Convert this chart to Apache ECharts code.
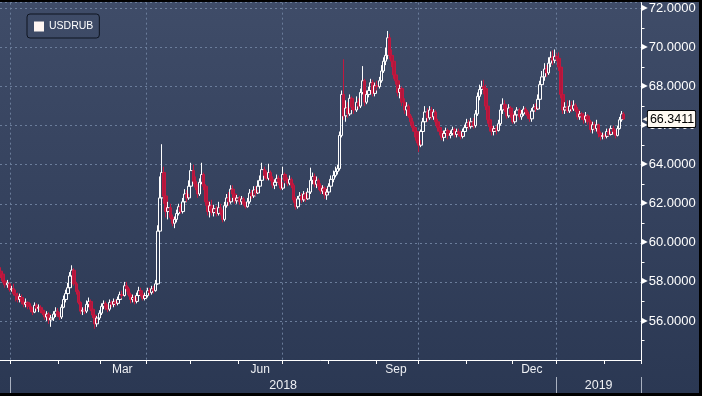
<!DOCTYPE html>
<html>
<head>
<meta charset="utf-8">
<script src="https://cdn.jsdelivr.net/npm/echarts@6/dist/echarts.min.js"></script>
<style>
  html, body { margin: 0; padding: 0; background: #000; }
  #wrap { position: absolute; left: 0; top: 2px; width: 699px; height: 391px;
          background: linear-gradient(to bottom, #3f4c68 0%, #35425e 50%, #2b3853 100%); }
  #chart { width: 699px; height: 391px; }
</style>
</head>
<body>
<div id="wrap"><div id="chart"></div></div>
<script>
// ---- DATA ----
const seriesName = 'USDRUB';
const firstDay = '2017-12-25';
const dayCount = 307;                 // weekdays shown on the axis
const lastPrice = 66.3411;
const monthLabelDates = ['2018-03-15', '2018-06-15', '2018-09-14', '2018-12-14'];
const monthLabelText  = ['Mar', 'Jun', 'Sep', 'Dec'];
const quarterGridDates = ['2018-01-01', '2018-04-02', '2018-07-02', '2018-10-01', '2019-01-01'];
const yearTickDates  = ['2018-01-01', '2019-01-01'];
const yearLabelDates = ['2018-07-02', '2019-01-29'];
const yTicks = [56, 58, 60, 62, 64, 66, 68, 70, 72];

// [open, close, low, high], one per weekday starting 2017-12-25
const usdrub = [
[58.55,58.40,58.20,58.75],[58.40,58.05,57.95,58.50],[58.05,57.85,57.70,58.20],[57.85,57.95,57.70,58.10],[57.90,57.60,57.50,58.00],
[57.60,57.65,57.50,57.80],[57.65,57.40,57.30,57.90],[57.40,57.30,57.00,57.60],[57.30,57.10,56.95,57.45],[57.10,57.25,56.95,57.40],
[57.20,57.00,56.85,57.35],[57.00,56.85,56.70,57.10],[56.85,56.95,56.70,57.15],[56.95,56.75,56.60,57.00],[56.75,56.60,56.45,56.90],
[56.60,56.45,56.30,56.70],[56.45,56.80,56.40,56.95],[56.80,56.65,56.50,56.90],[56.65,56.70,56.45,56.85],[56.70,56.55,56.40,56.80],
[56.55,56.40,56.30,56.70],[56.40,56.20,56.05,56.50],[56.20,56.35,56.00,56.50],[56.35,56.05,55.85,56.45],[56.05,56.15,55.70,56.30],
[56.15,56.35,56.00,56.50],[56.35,56.50,56.20,56.70],[56.50,56.30,56.20,56.65],[56.30,56.20,56.05,56.45],[56.20,56.70,56.10,56.85],
[56.70,57.10,56.65,57.30],[57.10,57.40,56.95,57.60],[57.40,57.70,57.30,57.95],[57.70,58.30,57.60,58.50],[58.30,58.60,58.10,58.85],
[58.60,57.90,57.80,58.70],[57.90,57.50,57.35,58.00],[57.50,56.95,56.85,57.60],[56.95,56.50,56.35,57.00],[56.50,56.55,56.30,56.70],
[56.55,56.50,56.35,56.70],[56.50,56.85,56.40,57.05],[56.85,57.00,56.70,57.20],[57.00,56.60,56.50,57.10],[56.60,56.30,56.15,56.70],
[56.30,55.85,55.60,56.35],[55.85,56.15,55.70,56.25],[56.15,56.40,56.05,56.55],[56.40,56.75,56.30,56.90],[56.75,56.90,56.60,57.05],
[56.90,56.70,56.55,57.00],[56.70,56.60,56.45,56.85],[56.60,56.95,56.50,57.10],[56.95,56.85,56.70,57.05],[56.85,57.00,56.70,57.15],
[57.00,56.90,56.75,57.10],[56.90,57.10,56.80,57.25],[57.10,57.35,57.00,57.50],[57.35,57.30,57.15,57.55],[57.30,57.80,57.25,58.00],
[57.80,57.65,57.50,58.00],[57.65,57.35,57.25,57.75],[57.35,57.10,56.90,57.45],[57.10,57.20,56.95,57.35],[57.20,57.00,56.85,57.30],
[57.00,57.30,56.90,57.45],[57.30,57.55,57.20,57.75],[57.55,57.35,57.25,57.70],[57.35,57.15,57.05,57.45],[57.15,57.30,57.05,57.45],
[57.30,57.55,57.20,57.70],[57.55,57.45,57.30,57.70],[57.45,57.65,57.35,57.80],[57.65,57.55,57.40,57.80],[57.55,57.90,57.50,58.10],
[57.90,60.60,57.85,60.90],[60.60,62.30,60.30,63.40],[62.30,63.60,61.80,65.05],[63.60,62.40,62.00,63.90],[62.40,61.60,61.30,62.60],
[61.60,61.80,61.20,62.10],[61.80,61.30,61.20,62.00],[61.30,61.00,60.85,61.45],[61.00,61.20,60.75,61.35],[61.20,61.50,61.05,61.70],
[61.50,61.85,61.40,62.00],[61.85,61.60,61.50,62.00],[61.60,62.10,61.50,62.30],[62.10,62.50,62.00,62.75],[62.50,62.30,62.10,62.70],
[62.30,62.90,62.20,63.20],[62.90,63.70,62.80,64.10],[63.70,63.15,63.00,64.00],[63.15,62.85,62.70,63.40],[62.85,62.50,62.30,63.00],
[62.50,63.10,62.40,63.30],[63.10,63.50,63.00,64.10],[63.50,62.90,62.70,63.60],[62.90,62.10,61.90,63.00],[62.10,61.60,61.40,62.20],
[61.60,61.90,61.30,62.10],[61.90,61.55,61.40,62.20],[61.55,61.75,61.35,61.95],[61.75,61.50,61.35,61.90],[61.50,61.80,61.40,62.10],
[61.80,61.55,61.40,62.00],[61.55,61.20,61.05,61.70],[61.20,61.90,61.10,62.10],[61.90,62.30,61.80,62.50],[62.30,62.10,61.90,62.60],
[62.10,62.75,62.00,62.95],[62.75,62.50,62.30,62.95],[62.50,62.15,62.00,62.70],[62.15,62.30,62.00,62.45],[62.30,62.10,61.95,62.40],
[62.10,62.25,61.95,62.40],[62.25,62.00,61.90,62.35],[62.00,61.85,61.75,62.10],[61.85,62.10,61.80,62.30],[62.10,62.55,62.00,62.75],
[62.55,62.40,62.25,62.70],[62.40,62.70,62.30,62.90],[62.70,62.55,62.40,62.90],[62.55,62.90,62.50,63.20],[62.90,63.20,62.80,63.45],
[63.20,63.75,63.10,64.10],[63.75,63.45,63.30,63.90],[63.45,63.30,63.20,63.70],[63.30,63.60,63.20,64.05],[63.60,63.25,63.15,63.70],
[63.25,62.95,62.80,63.40],[62.95,63.10,62.75,63.25],[63.10,63.30,62.90,63.50],[63.30,63.10,62.95,63.45],[63.10,62.80,62.70,63.25],
[62.80,63.50,62.70,63.90],[63.50,63.20,63.05,63.60],[63.20,63.05,62.90,63.35],[63.05,63.25,62.95,63.45],[63.25,62.95,62.80,63.35],
[62.95,62.20,62.05,63.05],[62.20,61.85,61.70,62.35],[61.85,62.25,61.75,62.40],[62.25,62.40,62.10,62.60],[62.40,62.20,62.05,62.55],
[62.20,62.50,62.10,62.65],[62.50,62.25,62.10,62.60],[62.25,62.60,62.20,62.80],[62.60,63.20,62.50,63.85],[63.20,63.40,63.00,63.60],
[63.40,63.00,62.85,63.55],[63.00,63.20,62.80,63.40],[63.20,62.90,62.70,63.30],[62.90,62.65,62.50,63.05],[62.65,62.80,62.50,62.95],
[62.80,62.45,62.25,62.90],[62.45,62.60,62.20,62.75],[62.60,62.90,62.50,63.05],[62.90,63.25,62.80,63.45],[63.25,63.45,63.10,63.70],
[63.45,63.65,63.35,63.90],[63.65,63.80,63.50,64.00],[63.80,65.50,63.70,65.70],[65.50,67.60,65.40,67.80],[67.60,66.50,66.30,69.40],
[66.50,66.90,66.20,67.30],[66.90,66.60,66.40,67.20],[66.60,67.40,66.50,67.60],[67.40,66.95,66.80,67.50],[66.95,66.80,66.60,67.20],
[66.80,67.20,66.70,67.50],[67.20,67.00,66.85,67.40],[67.00,67.70,66.90,67.90],[67.70,68.30,67.60,69.05],[68.30,67.20,67.00,68.40],
[67.20,67.60,67.10,67.80],[67.60,67.80,67.45,68.00],[67.80,68.20,67.70,68.40],[68.20,67.65,67.50,68.35],[67.65,68.05,67.50,68.20],
[68.05,68.00,67.80,68.30],[68.00,68.30,67.90,68.50],[68.30,68.80,68.20,69.10],[68.80,69.30,68.70,69.50],[69.30,69.60,69.10,70.00],
[69.60,70.50,69.40,70.85],[70.50,69.60,69.40,70.70],[69.60,69.30,69.00,69.90],[69.30,68.60,68.40,69.50],[68.60,68.30,68.10,68.80],
[68.30,67.70,67.50,68.40],[67.70,67.90,67.40,68.10],[67.90,67.20,67.00,68.00],[67.20,66.80,66.60,67.40],[66.80,67.00,66.50,67.20],
[67.00,66.50,66.40,67.10],[66.50,66.20,66.00,66.60],[66.20,65.90,65.70,66.40],[65.90,65.70,65.40,66.00],[65.70,65.25,65.10,65.80],
[65.25,65.00,64.65,65.35],[65.00,65.70,64.90,65.80],[65.70,66.20,65.60,66.40],[66.20,66.70,66.10,67.00],[66.70,66.40,66.20,66.90],
[66.40,66.80,66.30,67.00],[66.80,66.45,66.30,66.95],[66.45,66.70,66.30,66.85],[66.70,66.20,66.00,66.80],[66.20,65.90,65.70,66.35],
[65.90,65.70,65.50,66.05],[65.70,65.40,65.25,65.85],[65.40,65.60,65.20,65.75],[65.60,65.75,65.40,65.90],[65.75,65.50,65.30,65.85],
[65.50,65.60,65.35,65.75],[65.60,65.80,65.50,65.95],[65.80,65.55,65.40,65.90],[65.55,65.70,65.40,65.85],[65.70,65.60,65.45,65.85],
[65.60,65.45,65.30,65.75],[65.45,65.70,65.35,65.85],[65.70,65.90,65.60,66.05],[65.90,66.15,65.80,66.35],[66.15,65.95,65.80,66.30],
[65.95,66.20,65.85,66.40],[66.20,66.00,65.85,66.40],[66.00,66.60,65.90,66.80],[66.60,67.50,66.50,67.70],[67.50,67.85,67.30,68.10],
[67.85,68.00,67.60,68.30],[68.00,67.90,67.60,68.35],[67.90,67.00,66.80,68.10],[67.00,66.30,66.10,67.20],[66.30,65.95,65.70,66.40],
[65.95,65.70,65.50,66.05],[65.70,65.85,65.50,66.00],[65.85,65.75,65.55,66.00],[65.75,66.10,65.70,66.30],[66.10,66.80,66.00,67.10],
[66.80,67.10,66.60,67.40],[67.10,66.85,66.70,67.30],[66.85,66.50,66.35,67.10],[66.50,66.90,66.40,67.10],[66.90,66.60,66.40,67.00],
[66.60,66.20,66.10,66.70],[66.20,66.55,66.10,66.75],[66.55,66.80,66.40,66.95],[66.80,66.45,66.30,66.90],[66.45,66.60,66.30,66.80],
[66.60,66.85,66.50,67.00],[66.85,66.70,66.55,66.95],[66.70,66.50,66.35,66.80],[66.50,66.35,66.20,66.60],[66.35,66.75,66.20,66.90],
[66.75,66.95,66.60,67.10],[66.95,66.85,66.70,67.15],[66.85,67.35,66.80,67.60],[67.35,68.10,67.30,68.30],[68.10,68.50,68.00,68.80],
[68.50,68.90,68.30,69.20],[68.90,68.70,68.50,69.10],[68.70,69.20,68.60,69.50],[69.20,69.50,69.00,69.80],[69.50,69.35,69.10,69.85],
[69.35,69.55,69.20,69.90],[69.55,69.45,69.30,69.70],[69.45,69.00,68.80,69.75],[69.00,67.60,67.40,69.20],[67.60,66.80,66.60,67.70],
[66.80,66.95,66.60,67.20],[66.95,66.75,66.65,67.30],[66.75,67.00,66.65,67.30],[67.00,66.85,66.70,67.25],[66.85,67.05,66.75,67.30],
[67.05,66.80,66.70,67.15],[66.80,66.45,66.30,66.95],[66.45,66.60,66.30,66.75],[66.60,66.50,66.30,66.70],[66.50,66.30,66.10,66.65],
[66.30,66.50,66.15,66.70],[66.50,66.20,66.05,66.60],[66.20,65.80,65.65,66.30],[65.80,66.05,65.60,66.20],[66.05,65.85,65.70,66.20],
[65.85,66.05,65.70,66.30],[66.05,65.60,65.40,66.10],[65.60,65.45,65.25,65.70],[65.45,65.50,65.30,65.65],[65.50,65.45,65.30,65.60],
[65.45,65.70,65.35,65.85],[65.70,65.55,65.45,65.85],[65.55,65.85,65.50,66.00],[65.85,65.70,65.55,66.00],[65.70,65.50,65.35,65.80],
[65.50,65.85,65.45,66.00],[65.85,66.30,65.80,66.45],[66.30,66.60,66.20,66.75],[66.60,66.3411,66.30,66.70]
];

// ---- BUILD ----
function pad(n) { return (n < 10 ? '0' : '') + n; }
const categories = [];
(function () {
  const d = new Date(firstDay + 'T00:00:00Z');
  while (categories.length < dayCount) {
    const wd = d.getUTCDay();
    if (wd !== 0 && wd !== 6) {
      categories.push(d.getUTCFullYear() + '-' + pad(d.getUTCMonth() + 1) + '-' + pad(d.getUTCDate()));
    }
    d.setUTCDate(d.getUTCDate() + 1);
  }
})();
const isMonthStart = (i) => i > 0 && categories[i].slice(0, 7) !== categories[i - 1].slice(0, 7);

const FONT = 'Liberation Sans';
const chart = echarts.init(document.getElementById('chart'), null, { renderer: 'canvas' });
chart.setOption({
  animation: false,
  backgroundColor: 'transparent',
  textStyle: { fontFamily: FONT },
  grid: { left: 0, right: 57.5, top: 0, bottom: 33, containLabel: false },
  legend: {
    left: 27, top: 12,
    padding: [7, 6, 6, 7],
    backgroundColor: 'rgba(0,0,0,0)',
    borderColor: '#0e1420', borderWidth: 1, borderRadius: 3,
    itemWidth: 10, itemHeight: 10, itemGap: 4,
    textStyle: { color: '#ffffff', fontSize: 10.5, fontFamily: FONT, padding: [1, 0, 0, 0] },
    data: [{ name: seriesName, icon: 'rect', itemStyle: { color: '#fff6f2', borderWidth: 0 } }]
  },
  xAxis: [
    {
      type: 'category', data: categories, boundaryGap: true, position: 'bottom',
      axisLine: { show: true, lineStyle: { color: '#ffffff', width: 1 } },
      axisTick: { show: true, length: 4, interval: (i) => isMonthStart(i), lineStyle: { color: '#ffffff' } },
      axisLabel: {
        show: true, margin: 4, color: '#eef0f4', fontSize: 12, fontFamily: FONT,
        interval: (i, v) => monthLabelDates.indexOf(v) >= 0,
        formatter: (v) => { const k = monthLabelDates.indexOf(v); return k >= 0 ? monthLabelText[k] : ''; }
      },
      splitLine: {
        show: true, interval: (i, v) => quarterGridDates.indexOf(v) >= 0,
        lineStyle: { color: '#6b7d9b', type: [2, 3], width: 1 }
      }
    },
    {
      type: 'category', data: categories, boundaryGap: true, position: 'bottom', offset: 17,
      axisLine: { show: false },
      axisTick: { show: true, length: 20, interval: (i, v) => yearTickDates.indexOf(v) >= 0,
                  lineStyle: { color: '#a9b1c0', width: 1 } },
      axisLabel: {
        show: true, margin: 2, color: '#eef0f4', fontSize: 12.5, fontFamily: FONT,
        interval: (i, v) => yearLabelDates.indexOf(v) >= 0,
        formatter: (v) => v.slice(0, 4)
      },
      splitLine: { show: false }
    }
  ],
  yAxis: {
    type: 'value', position: 'right', min: 54, max: 72.3, interval: 2, scale: true,
    axisLine: { show: true, lineStyle: { color: '#ffffff', width: 1 } },
    axisTick: { show: false },
    minorTick: { show: true, splitNumber: 2, length: 3, lineStyle: { color: '#ffffff' } },
    splitLine: { show: true, lineStyle: { color: '#6b7d9b', type: [2, 3], width: 1 } },
    axisLabel: {
      margin: 0, color: '#ffffff', fontSize: 13, fontFamily: FONT,
      formatter: (v) => {
        const r = Math.round(v);
        if (Math.abs(v - r) > 1e-6 || yTicks.indexOf(r) < 0) return '';
        return '{t|▶}' + v.toFixed(4);
      },
      rich: { t: { fontSize: 8, color: '#ffffff', padding: [0, 1, 1, 0], fontFamily: 'DejaVu Sans' } }
    }
  },
  series: [{
    name: seriesName,
    type: 'candlestick',
    xAxisIndex: 0,
    data: usdrub,
    barWidth: 3,
    large: false,
    clip: false,
    itemStyle: {
      color: 'rgba(0,0,0,0)', color0: '#b3173c',
      borderColor: '#ffffff', borderColor0: '#c2183f', borderWidth: 1
    },
    markLine: {
      silent: true, symbol: ['none', 'none'], animation: false,
      lineStyle: { color: 'rgba(0,0,0,0)', width: 1, type: 'solid' },
      data: [{ yAxis: lastPrice }],
      label: {
        show: true, position: 'end', distance: 1,
        formatter: () => '{a|◀}{b|' + lastPrice.toFixed(4) + '}',
        rich: {
          a: { color: '#fffaf2', fontSize: 7, fontFamily: 'DejaVu Sans', padding: [0, 0, 0, 0] },
          b: { color: '#000000', fontSize: 12.5, fontFamily: FONT, backgroundColor: '#fffaf2',
               borderColor: '#000000', borderWidth: 1, padding: [2, 1, 1, 2], borderRadius: 1 }
        }
      }
    }
  }]
});
</script>
</body>
</html>
